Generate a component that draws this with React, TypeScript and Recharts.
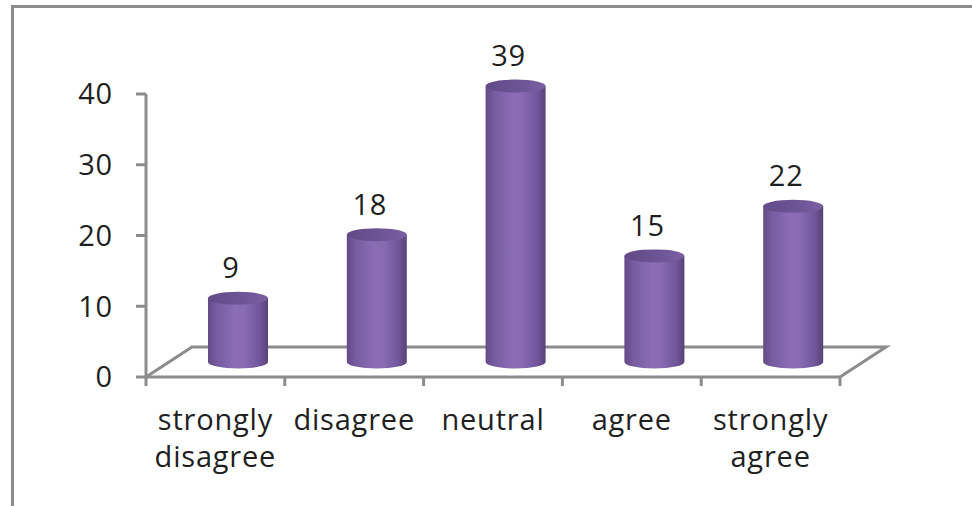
import React from "react";
import * as R from "recharts";
import { BarChart, Bar, XAxis, YAxis, LabelList } from "recharts";

// survey answers
const categories = ["strongly disagree", "disagree", "neutral", "agree", "strongly agree"];
const counts = [9, 18, 39, 15, 22];
const yTicks = [0, 10, 20, 30, 40];

const data = categories.map((name, i) => ({ name, count: counts[i] }));

const W = 972;
const H = 506;
const XAXIS_H = 100;
const MARGIN = { top: 94, right: 132, bottom: 129 - XAXIS_H, left: 0 };
const YAXIS_W = 146;
const DEPTH = { dx: 46, dy: -30 };
const GRAY = "#8c8c8c";
const FONT = "'Open Sans', sans-serif";
const FS = 29;
const LS = 0.8;

const usePlot = () => {
  const hook = (R as any).usePlotArea;
  const res = hook ? hook() : null;
  if (res && res.width != null && res.x != null) {
    return { x: res.x, y: res.y, width: res.width, height: res.height };
  }
  return {
    x: MARGIN.left + YAXIS_W,
    y: MARGIN.top,
    width: W - MARGIN.left - MARGIN.right - YAXIS_W,
    height: H - MARGIN.top - MARGIN.bottom - XAXIS_H,
  };
};

// 3d floor + category ticks
const Floor = () => {
  const p = usePlot();
  const by = p.y + p.height;
  const x0 = p.x;
  const x1 = p.x + p.width;
  const step = p.width / categories.length;
  const ticks = [];
  for (let i = 0; i <= categories.length; i++) {
    const tx = x0 + i * step;
    ticks.push(<line key={i} x1={tx} y1={by} x2={tx} y2={by + 9} stroke={GRAY} strokeWidth={3} />);
  }
  return (
    <g>
      <polyline
        points={`${x0},${by} ${x0 + DEPTH.dx},${by + DEPTH.dy} ${x1 + DEPTH.dx},${by + DEPTH.dy} ${x1},${by}`}
        fill="none"
        stroke={GRAY}
        strokeWidth={3}
      />
      {ticks}
    </g>
  );
};

const Cylinder = (props: any) => {
  const { x, y, width, height } = props;
  if (width == null || height == null) return null;
  const ox = x + DEPTH.dx / 2;
  const top = y + DEPTH.dy / 2;
  const bot = y + height + DEPTH.dy / 2;
  const rx = width / 2;
  const ry = 6.5;
  return (
    <g>
      <path
        d={`M${ox},${top} L${ox},${bot} A${rx},${ry} 0 0 0 ${ox + width},${bot} L${ox + width},${top} Z`}
        fill="url(#cylBody)"
      />
      <ellipse cx={ox + rx} cy={top} rx={rx} ry={ry} fill="url(#cylTop)" />
    </g>
  );
};

const ValueLabel = (props: any) => {
  const { x, y, width, value } = props;
  return (
    <text
      x={x + width / 2 + DEPTH.dx / 2 - 7}
      y={y + DEPTH.dy / 2 - 20}
      textAnchor="middle"
      fontFamily={FONT}
      fontSize={FS}
      letterSpacing={LS}
      fill="#1f1f1f"
    >
      {value}
    </text>
  );
};

const CatTick = (props: any) => {
  const { x, y, payload } = props;
  const lines = String(payload.value).split(" ");
  return (
    <text x={x} y={y} textAnchor="middle" fontFamily={FONT} fontSize={FS} letterSpacing={LS} fill="#1f1f1f">
      {lines.map((l, i) => (
        <tspan key={i} x={x} dy={i === 0 ? 45 : 37}>
          {l}
        </tspan>
      ))}
    </text>
  );
};

export default function App() {
  return (
    <div style={{ position: "relative", width: W, height: H, overflow: "hidden", background: "#fff" }}>
      <style>{`body{margin:0}`}</style>
      <div
        style={{
          position: "absolute",
          left: 11,
          top: 5,
          width: 2000,
          height: 2000,
          border: `3px solid ${GRAY}`,
          boxSizing: "border-box",
        }}
      />
      <div style={{ position: "absolute", left: 0, top: 0 }}>
        <BarChart width={W} height={H} data={data} margin={MARGIN} barSize={60}>
          <defs>
            <linearGradient id="cylBody" x1="0" y1="0" x2="1" y2="0">
              <stop offset="0" stopColor="#634b86" />
              <stop offset="0.15" stopColor="#775ca0" />
              <stop offset="0.45" stopColor="#8b6db5" />
              <stop offset="0.6" stopColor="#896bb2" />
              <stop offset="0.85" stopColor="#72579d" />
              <stop offset="1" stopColor="#584377" />
            </linearGradient>
            <linearGradient id="cylTop" x1="0" y1="0" x2="1" y2="0">
              <stop offset="0" stopColor="#624a86" />
              <stop offset="0.6" stopColor="#6e5596" />
              <stop offset="1" stopColor="#7a60a3" />
            </linearGradient>
          </defs>
          <Floor />
          <XAxis
            dataKey="name"
            height={XAXIS_H}
            axisLine={{ stroke: GRAY, strokeWidth: 3 }}
            tickLine={false}
            tick={<CatTick />}
            interval={0}
          />
          <YAxis
            width={YAXIS_W}
            domain={[0, 40]}
            ticks={yTicks}
            axisLine={{ stroke: GRAY, strokeWidth: 3 }}
            tickLine={{ stroke: GRAY, strokeWidth: 3 }}
            tickSize={10}
            tickMargin={23}
            tick={{ fontFamily: FONT, fontSize: FS, fill: "#1f1f1f", letterSpacing: LS }}
          />
          <Bar dataKey="count" shape={<Cylinder />} isAnimationActive={false}>
            <LabelList dataKey="count" content={<ValueLabel />} />
          </Bar>
        </BarChart>
      </div>
    </div>
  );
}
